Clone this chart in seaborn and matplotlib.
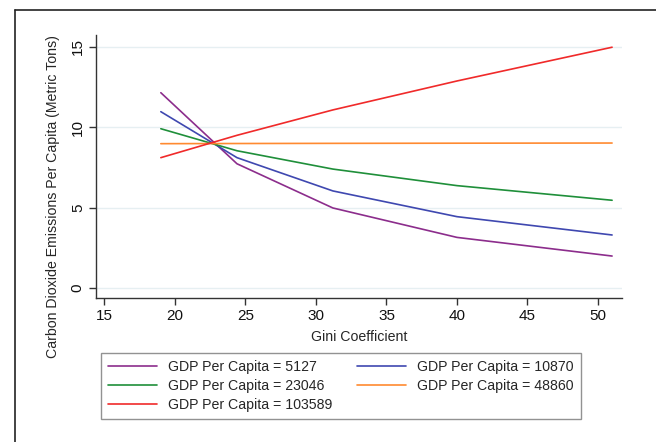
import numpy as np
import pandas as pd
import matplotlib
matplotlib.use("Agg")
import matplotlib.pyplot as plt
import seaborn as sns
from matplotlib.lines import Line2D

# Gini values where the predictions are evaluated
GINI = [19.0, 24.4, 31.2, 40.0, 51.0]

# predicted CO2 per capita for each GDP level
CO2_5127   = [12.15, 7.73, 4.98, 3.15, 1.99]
CO2_10870  = [10.97, 8.11, 6.04, 4.44, 3.30]
CO2_23046  = [9.91, 8.54, 7.40, 6.37, 5.46]
CO2_48860  = [8.98, 8.99, 9.00, 9.01, 9.02]
CO2_103589 = [8.11, 9.50, 11.08, 12.88, 14.98]

GDP_LEVELS = ["5127", "10870", "23046", "48860", "103589"]
SERIES = [CO2_5127, CO2_10870, CO2_23046, CO2_48860, CO2_103589]
COLORS = ["#8c2d8c", "#3f48b0", "#1f8f3a", "#ff8a30", "#f02a2a"]

rows = []
for gdp, vals in zip(GDP_LEVELS, SERIES):
    for g, v in zip(GINI, vals):
        rows.append({"gini": g, "co2": v, "gdp": f"GDP Per Capita = {gdp}"})
df = pd.DataFrame(rows)

sns.set_style("white")
plt.rcParams["font.family"] = ["Liberation Sans", "DejaVu Sans"]

fig = plt.figure(figsize=(6.56, 4.42), dpi=100)
ax = fig.add_axes([0.1463, 0.3258, 0.8018, 0.595])

labels = [f"GDP Per Capita = {g}" for g in GDP_LEVELS]
sns.lineplot(data=df, x="gini", y="co2", hue="gdp", hue_order=labels,
             palette=COLORS, linewidth=1.2, ax=ax, legend=False)

ax.set_xlim(14.4, 51.7)
ax.set_ylim(-0.62, 15.74)
ax.set_xticks([15, 20, 25, 30, 35, 40, 45, 50])
ax.set_yticks([0, 5, 10, 15])
ax.grid(axis="y", color="#e6eff2", linewidth=1)
ax.set_axisbelow(True)
for s in ["top", "right"]:
    ax.spines[s].set_visible(False)
for s in ["left", "bottom"]:
    ax.spines[s].set_color("#333333")
    ax.spines[s].set_linewidth(1)
ax.tick_params(axis="both", direction="out", length=5, width=1,
               color="#333333", labelsize=11, labelcolor="#111111",
               bottom=True, left=True, pad=3)
plt.setp(ax.get_yticklabels(), rotation=90, va="center")

ax.set_xlabel("Gini Coefficient", fontsize=10.2, labelpad=5)
ax.set_ylabel("Carbon Dioxide Emissions Per Capita (Metric Tons)", fontsize=10.2)
ax.yaxis.set_label_coords(-0.068, 0.384)

# legend filled row by row like the original
order = [0, 2, 4, 1, 3]
handles = [Line2D([0], [0], color=COLORS[i], linewidth=1.2) for i in order]
leg = fig.legend(handles, [labels[i] for i in order], ncol=2, loc="upper left",
                 bbox_to_anchor=(101 / 656, 1 - 353 / 442),
                 fontsize=10.2, frameon=True, fancybox=False,
                 handlelength=3.45, handletextpad=0.8, columnspacing=1.7,
                 labelspacing=0.35, borderpad=0.5, borderaxespad=0)
leg.get_frame().set_edgecolor("#777777")
leg.get_frame().set_linewidth(1)

# outer frame (left and top edges visible)
fig.add_artist(Line2D([15 / 656, 15 / 656], [0, 1 - 10 / 442],
                      transform=fig.transFigure, color="#222222", linewidth=1.2))
fig.add_artist(Line2D([15 / 656, 1], [1 - 10 / 442, 1 - 10 / 442],
                      transform=fig.transFigure, color="#222222", linewidth=1.2))

fig.savefig("out.png", dpi=100)
